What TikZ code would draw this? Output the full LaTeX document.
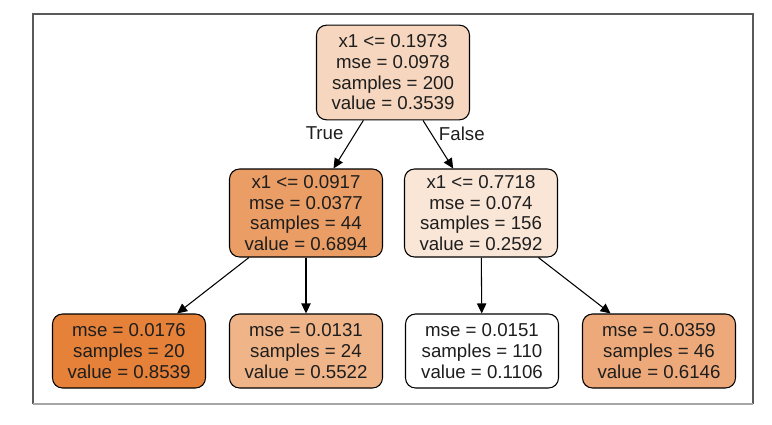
\documentclass[tikz,border=0pt]{standalone}
\usepackage{fontspec}
\setmainfont{Liberation Sans}
\usetikzlibrary{arrows.meta,positioning}

\definecolor{cRoot}{HTML}{F6D6BE}
\definecolor{cSplitL}{HTML}{EA9D65}
\definecolor{cSplitR}{HTML}{FAE6D7}
\definecolor{cLeafA}{HTML}{E58139}
\definecolor{cLeafB}{HTML}{F0B489}
\definecolor{cLeafC}{HTML}{FFFFFF}
\definecolor{cLeafD}{HTML}{EDA979}
\definecolor{cText}{HTML}{1E1E1E}

\tikzset{
    treenode/.style={draw=black, line width=0.8pt, rounded corners=7.5pt,
        align=center, minimum width=114.75pt, text=cText, inner sep=2pt,
        font=\fontsize{14}{15.5}\selectfont},
    splitnode/.style={treenode, minimum height=66pt},
    leafnode/.style={treenode, minimum height=55.5pt},
    edge/.style={line width=0.8pt, -{Triangle[length=7.5pt,width=7pt]}},
    edgelabel/.style={font=\fontsize{14}{15.5}\selectfont, text=cText, inner sep=0pt}
}

\begin{document}
\begin{tikzpicture}[x=0.75pt,y=-0.75pt]
        \useasboundingbox (0,0) rectangle (772,425);

        % === FRAME ===
        \draw[line width=0.9pt, black!65] (33,404) -- (33,14) -- (753,14) -- (753,404);
        \draw[line width=0.9pt, black!35] (33,404) -- (753,404);

        % === ROOT ===
        \node[splitnode, fill=cRoot, minimum height=71pt] (root) at (393,72.5)
            {x1 <= 0.1973\\mse = 0.0978\\samples = 200\\value = 0.3539};

        % === SPLITS ===
        \node[splitnode, fill=cSplitL] (splitL) at (306,213)
            {x1 <= 0.0917\\mse = 0.0377\\samples = 44\\value = 0.6894};
        \node[splitnode, fill=cSplitR] (splitR) at (481,213)
            {x1 <= 0.7718\\mse = 0.074\\samples = 156\\value = 0.2592};

        % === LEAVES ===
        \node[leafnode, fill=cLeafA] (leafA) at (129,351)
            {mse = 0.0176\\samples = 20\\value = 0.8539};
        \node[leafnode, fill=cLeafB] (leafB) at (306,351)
            {mse = 0.0131\\samples = 24\\value = 0.5522};
        \node[leafnode, fill=cLeafC] (leafC) at (482,351)
            {mse = 0.0151\\samples = 110\\value = 0.1106};
        \node[leafnode, fill=cLeafD] (leafD) at (659,351)
            {mse = 0.0359\\samples = 46\\value = 0.6146};

        % === EDGES ===
        \draw[edge] (root) -- (splitL)
            node[edgelabel, pos=0.27, anchor=east, xshift=-8.5pt] {True};
        \draw[edge] (root) -- (splitR)
            node[edgelabel, pos=0.27, anchor=west, xshift=5.5pt] {False};
        \draw[edge] (splitL) -- (leafA);
        \draw[edge] (splitL) -- (leafB);
        \draw[edge] (splitR) -- (leafC);
        \draw[edge] (splitR) -- (leafD);

    \end{tikzpicture}
\end{document}
